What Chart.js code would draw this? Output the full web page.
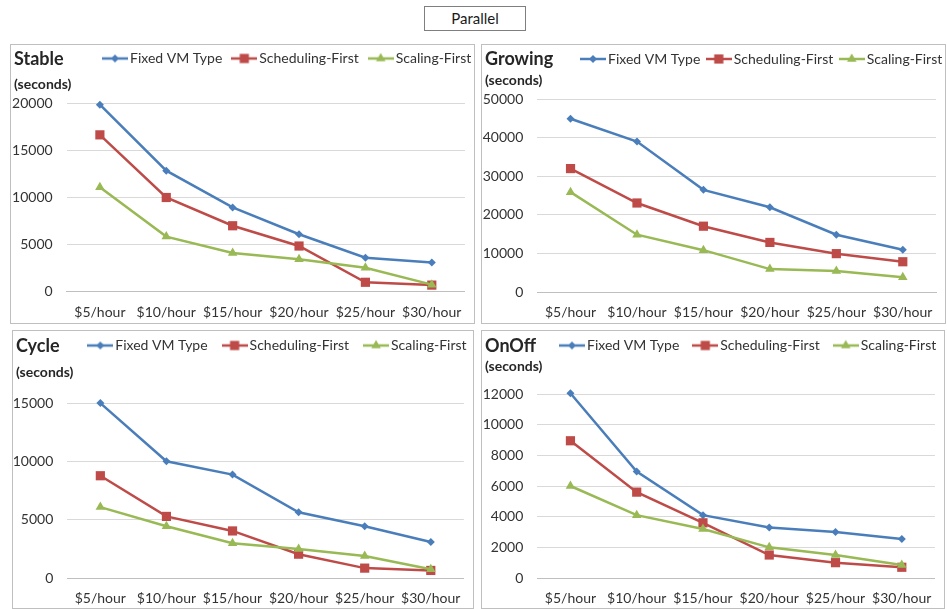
<!DOCTYPE html>
<html>
<head>
<meta charset="utf-8">
<script src="https://cdn.jsdelivr.net/npm/chart.js@4.4.1/dist/chart.umd.min.js"></script>
<style>
  html, body { margin: 0; padding: 0; background: #fff; width: 947px; height: 609px; overflow: hidden;
    font-family: Lato, "Liberation Sans", sans-serif; color: #262626; }
  .panel { position: absolute; border: 1px solid #bfbfbf; box-sizing: border-box; }
  .panel canvas { position: absolute; left: 0; top: 0; }
  .ttl { position: absolute; font-weight: bold; font-size: 18px; line-height: 18px; white-space: nowrap; }
  .unit { position: absolute; font-weight: bold; font-size: 14px; line-height: 14px; white-space: nowrap; }
  #main { position: absolute; left: 424px; top: 6px; width: 102px; height: 25px; border: 1px solid #7f7f7f;
    box-sizing: border-box; text-align: center; font-size: 15px; line-height: 23px; color: #1a1a1a; }
</style>
</head>
<body>
<div id="main">Parallel</div>
<script>
// Budget levels shared by all four workloads
const categories = ['$5/hour', '$10/hour', '$15/hour', '$20/hour', '$25/hour', '$30/hour'];
const seriesNames = ['Fixed VM Type', 'Scheduling-First', 'Scaling-First'];

// Execution time (seconds) per workload pattern
const stableFixed      = [19850, 12850, 8950, 6100, 3600, 3100];
const stableScheduling = [16650, 10000, 7000, 4850, 1000, 700];
const stableScaling    = [11100, 5850, 4100, 3450, 2550, 750];

const growingFixed      = [44900, 39000, 26500, 22000, 14900, 11000];
const growingScheduling = [32000, 23100, 17100, 12900, 10000, 7900];
const growingScaling    = [25900, 14900, 10900, 6000, 5500, 3900];

const cycleFixed      = [15050, 10050, 8900, 5650, 4450, 3100];
const cycleScheduling = [8800, 5300, 4050, 2050, 850, 650];
const cycleScaling    = [6100, 4450, 3000, 2500, 1900, 750];

const onoffFixed      = [12050, 6950, 4100, 3300, 3000, 2550];
const onoffScheduling = [8950, 5600, 3600, 1500, 1000, 700];
const onoffScaling    = [6000, 4100, 3200, 2000, 1500, 850];

// Value axis range for each panel
const axisMax  = [20000, 50000, 15000, 12000];
const axisStep = [5000, 10000, 5000, 2000];

const seriesColors = ['#4A7EBB', '#BE4B48', '#98B954'];
const seriesMarkers = [
  { style: 'rectRot', radius: 4 },
  { style: 'rect', radius: 6.5 },
  { style: 'triangle', radius: 5.5 }
];

const FONT = 'Lato, "Liberation Sans", sans-serif';
const TEXT = '#333333';

// Page geometry of each panel: outer box, plot rectangle, title / unit / legend anchors
const panels = [
  { name: 'Stable',  box: [10, 44, 475, 324],  plot: [66.7, 103.3, 474, 291.7],
    title: [14, 49], unit: [14, 77], legend: [102, 58.5], legendGap: 14,
    series: [stableFixed, stableScheduling, stableScaling] },
  { name: 'Growing', box: [481, 44, 946, 324], plot: [537.3, 99, 945, 292.3],
    title: [485, 49], unit: [485, 73], legend: [580, 59], legendGap: 10.5,
    series: [growingFixed, growingScheduling, growingScaling] },
  { name: 'Cycle',   box: [12, 330, 474, 609], plot: [67.3, 403.7, 473, 578],
    title: [16, 336], unit: [16, 365], legend: [87.3, 345.5], legendGap: 19,
    series: [cycleFixed, cycleScheduling, cycleScaling] },
  { name: 'OnOff',   box: [481, 330, 945, 609], plot: [537.3, 394, 944, 578],
    title: [485, 336], unit: [485, 359], legend: [559, 345.5], legendGap: 18,
    series: [onoffFixed, onoffScheduling, onoffScaling] }
];

// Legend symbol: short line with the series marker in the middle
function legendIcon(color, marker) {
  const c = document.createElement('canvas');
  c.width = 26; c.height = 14;
  const g = c.getContext('2d');
  g.strokeStyle = color; g.lineWidth = 2.5;
  g.beginPath(); g.moveTo(0, 7); g.lineTo(26, 7); g.stroke();
  g.fillStyle = color;
  Chart.helpers.drawPoint(g, { pointStyle: marker.style, radius: marker.radius, borderWidth: 0, rotation: 0 }, 13, 7);
  return c;
}

const LEGEND_BOX = 16;
const LEGEND_FONT = 14;

function buildPanel(p, idx) {
  const [x0, y0, x1, y1] = p.box;
  const div = document.createElement('div');
  div.className = 'panel';
  div.style.left = x0 + 'px'; div.style.top = y0 + 'px';
  div.style.width = (x1 - x0) + 'px'; div.style.height = (y1 - y0) + 'px';
  document.body.appendChild(div);

  const cl = x0 + 1, ct = y0 + 1, cw = x1 - x0 - 2, ch = y1 - y0 - 2;
  const cv = document.createElement('canvas');
  cv.width = cw; cv.height = ch;
  cv.style.width = cw + 'px'; cv.style.height = ch + 'px';
  div.appendChild(cv);

  const t = document.createElement('div');
  t.className = 'ttl'; t.textContent = p.name;
  t.style.left = (p.title[0] - cl) + 'px'; t.style.top = (p.title[1] - ct) + 'px';
  div.appendChild(t);
  const u = document.createElement('div');
  u.className = 'unit'; u.textContent = '(seconds)';
  u.style.left = (p.unit[0] - cl) + 'px'; u.style.top = (p.unit[1] - ct) + 'px';
  div.appendChild(u);

  const [pl, pt, pr, pb] = p.plot;
  const yWidth = pl - cl;
  const xHeight = ct + ch - pb;
  const legendHeight = pt - ct;
  const padRight = Math.max(0, cl + cw - pr);
  const gap = p.legendGap;

  const icons = seriesColors.map((c, i) => legendIcon(c, seriesMarkers[i]));

  const placeLegend = {
    id: 'placeLegend',
    beforeLayout(chart) {
      const lg = chart.legend;
      if (lg && !lg._patched) {
        const fit = lg.fit;
        lg.fit = function () { fit.call(this); this.height = legendHeight; };
        lg._patched = true;
      }
    },
    afterLayout(chart) {
      const lg = chart.legend;
      const boxStart = p.legend[0] - cl + (26 - LEGEND_BOX) / 2;
      lg.left = boxStart - gap;
      lg.right = lg.left + 2000;
      lg.top = p.legend[1] - ct - gap - LEGEND_FONT / 2;
      lg.bottom = lg.top + 60;
    }
  };

  new Chart(cv, {
    type: 'line',
    data: {
      labels: categories,
      datasets: p.series.map((values, i) => ({
        label: seriesNames[i],
        data: values,
        borderColor: seriesColors[i],
        backgroundColor: seriesColors[i],
        borderWidth: 2.5,
        tension: 0,
        pointStyle: seriesMarkers[i].style,
        pointRadius: seriesMarkers[i].radius,
        pointBorderWidth: 0,
        pointBackgroundColor: seriesColors[i],
        order: 2 - i,
        clip: false
      }))
    },
    options: {
      responsive: false,
      animation: false,
      devicePixelRatio: 1,
      layout: { padding: { left: 0, top: 0, right: padRight, bottom: 0 } },
      plugins: {
        title: { display: false },
        tooltip: { enabled: false },
        legend: {
          display: true,
          position: 'top',
          align: 'start',
          labels: {
            usePointStyle: true,
            pointStyleWidth: LEGEND_BOX,
            padding: gap,
            color: TEXT,
            font: { family: FONT, size: LEGEND_FONT },
            sort: (a, b) => a.datasetIndex - b.datasetIndex,
            generateLabels(chart) {
              const items = Chart.defaults.plugins.legend.labels.generateLabels(chart);
              items.forEach(it => { it.pointStyle = icons[it.datasetIndex]; });
              return items;
            }
          }
        }
      },
      scales: {
        x: {
          type: 'category',
          offset: true,
          grid: { display: false, drawTicks: false },
          border: { display: true, color: '#bfbfbf', width: 1 },
          ticks: { color: TEXT, font: { family: FONT, size: 14 }, padding: 12, maxRotation: 0, autoSkip: false },
          afterFit(s) { s.height = xHeight; }
        },
        y: {
          min: 0,
          max: axisMax[idx],
          grid: { color: '#d9d9d9', lineWidth: 1, drawTicks: false },
          border: { display: false },
          ticks: { stepSize: axisStep[idx], color: TEXT, font: { family: FONT, size: 14 }, padding: 14,
                   callback: v => String(v) },
          afterFit(s) { s.width = yWidth; }
        }
      }
    },
    plugins: [placeLegend]
  });
}

panels.forEach(buildPanel);
</script>
</body>
</html>
